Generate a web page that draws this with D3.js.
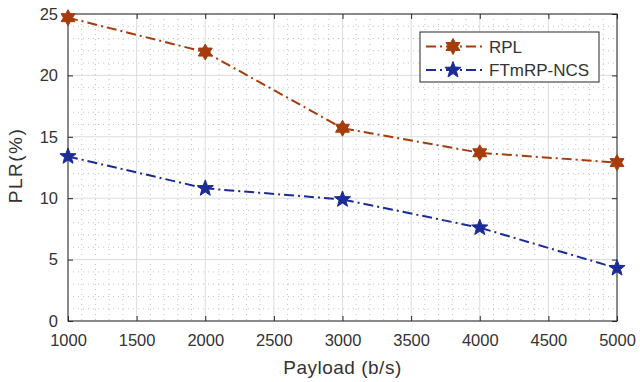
<!DOCTYPE html>
<html>
<head>
<meta charset="utf-8">
<script src="https://cdn.jsdelivr.net/npm/d3@7"></script>
<style>
  body { margin: 0; background: #fff; }
  svg { font-family: "Liberation Sans", Arial, sans-serif; }
</style>
</head>
<body>
<svg id="chart" width="640" height="382"></svg>
<script>
// data
const payload = [1000, 2000, 3000, 4000, 5000];
const rpl = [24.7, 21.9, 15.7, 13.7, 12.9];
const ftmrp = [13.4, 10.8, 9.9, 7.6, 4.3];
const xTicks = [1000, 1500, 2000, 2500, 3000, 3500, 4000, 4500, 5000];
const yTicks = [0, 5, 10, 15, 20, 25];

const svg = d3.select('#chart');
const margin = {top: 14, right: 23, bottom: 61, left: 68};
const width = 640 - margin.left - margin.right;
const height = 382 - margin.top - margin.bottom;
const g = svg.append('g').attr('transform', 'translate(' + margin.left + ',' + margin.top + ')');

const x = d3.scaleLinear().domain([1000, 5000]).range([0, width]);
const y = d3.scaleLinear().domain([0, 25]).range([height, 0]);

// minor grid (dotted)
const xMinor = d3.range(1100, 5000, 100).filter(v => v % 500 !== 0);
const yMinor = d3.range(1, 25, 1).filter(v => v % 5 !== 0);
g.append('g').selectAll('line').data(xMinor).enter().append('line')
  .attr('x1', d => x(d)).attr('x2', d => x(d)).attr('y1', 0).attr('y2', height)
  .attr('stroke', '#c4c4c4').attr('stroke-width', 1).attr('stroke-dasharray', '1,4');
g.append('g').selectAll('line').data(yMinor).enter().append('line')
  .attr('y1', d => y(d)).attr('y2', d => y(d)).attr('x1', 0).attr('x2', width)
  .attr('stroke', '#c4c4c4').attr('stroke-width', 1).attr('stroke-dasharray', '1,4');

// major grid
g.append('g').selectAll('line').data(xTicks).enter().append('line')
  .attr('x1', d => x(d)).attr('x2', d => x(d)).attr('y1', 0).attr('y2', height)
  .attr('stroke', '#dcdcdc').attr('stroke-width', 1);
g.append('g').selectAll('line').data(yTicks).enter().append('line')
  .attr('y1', d => y(d)).attr('y2', d => y(d)).attr('x1', 0).attr('x2', width)
  .attr('stroke', '#dcdcdc').attr('stroke-width', 1);

// axes with inward ticks
const axisStyle = sel => {
  sel.select('.domain').remove();
  sel.selectAll('.tick line').attr('stroke', '#262626');
};
g.append('g').attr('transform', 'translate(0,' + height + ')')
  .call(d3.axisBottom(x).tickValues(xTicks).tickSize(-5).tickPadding(13).tickFormat(d3.format('d')))
  .call(axisStyle);
g.append('g')
  .call(d3.axisTop(x).tickValues(xTicks).tickSize(-5).tickFormat(''))
  .call(axisStyle);
g.append('g')
  .call(d3.axisLeft(y).tickValues(yTicks).tickSize(-5).tickPadding(10))
  .call(axisStyle);
g.append('g').attr('transform', 'translate(' + width + ',0)')
  .call(d3.axisRight(y).tickValues(yTicks).tickSize(-5).tickFormat(''))
  .call(axisStyle);
g.selectAll('.tick text').attr('fill', '#333').style('font-size', '16.5px').style('font-family', '"Liberation Sans", Arial, sans-serif');

// box
g.append('rect').attr('width', width).attr('height', height)
  .attr('fill', 'none').attr('stroke', '#262626').attr('stroke-width', 1);

// axis labels
svg.append('text').attr('x', margin.left + width / 2).attr('y', 374)
  .attr('text-anchor', 'middle').attr('fill', '#333').style('font-size', '19px')
  .style('letter-spacing', '0.5px')
  .text('Payload (b/s)');
svg.append('text').attr('transform', 'translate(22,' + (margin.top + height / 2 - 2) + ') rotate(-90)')
  .attr('text-anchor', 'middle').attr('fill', '#333').style('font-size', '19px')
  .style('letter-spacing', '1.5px')
  .text('PLR(%)');

const series = [
  {name: 'RPL', values: rpl, color: '#a43c0b', marker: 'hex'},
  {name: 'FTmRP-NCS', values: ftmrp, color: '#1c2c96', marker: 'star'}
];

function starPath(cx, cy, points, rOut, rIn) {
  let p = [];
  for (let i = 0; i < points * 2; i++) {
    const r = i % 2 === 0 ? rOut : rIn;
    const a = -Math.PI / 2 + i * Math.PI / points;
    p.push([cx + r * Math.cos(a), cy + r * Math.sin(a)]);
  }
  return 'M' + p.map(q => q.join(',')).join('L') + 'Z';
}
function markerPath(type, cx, cy) {
  return type === 'hex' ? starPath(cx, cy, 6, 8, 4.6) : starPath(cx, cy, 5, 8.5, 3.6);
}

const line = d3.line().x(d => x(d[0])).y(d => y(d[1]));
series.forEach(s => {
  const pts = payload.map((p, i) => [p, s.values[i]]);
  g.append('path').datum(pts).attr('d', line)
    .attr('fill', 'none').attr('stroke', s.color).attr('stroke-width', 2)
    .attr('stroke-dasharray', '10,4,2,4');
  g.selectAll('.m-' + s.marker).data(pts).enter().append('path')
    .attr('class', 'm-' + s.marker)
    .attr('d', d => markerPath(s.marker, x(d[0]), y(d[1])))
    .attr('fill', s.color).attr('stroke', s.color).attr('stroke-width', 1);
});

// legend
const lg = svg.append('g').attr('transform', 'translate(420,32)');
lg.append('rect').attr('width', 179).attr('height', 50)
  .attr('fill', '#fff').attr('stroke', '#262626').attr('stroke-width', 1);
series.forEach((s, i) => {
  const yy = 14.5 + i * 23.5;
  lg.append('line').attr('x1', 6).attr('x2', 63).attr('y1', yy).attr('y2', yy)
    .attr('stroke', s.color).attr('stroke-width', 2).attr('stroke-dasharray', '10,4,2,4');
  lg.append('path').attr('d', markerPath(s.marker, 33, yy))
    .attr('fill', s.color).attr('stroke', s.color);
  lg.append('text').attr('x', 69).attr('y', yy + 6)
    .attr('fill', '#333').style('font-size', '17px').text(s.name);
});
</script>
</body>
</html>
